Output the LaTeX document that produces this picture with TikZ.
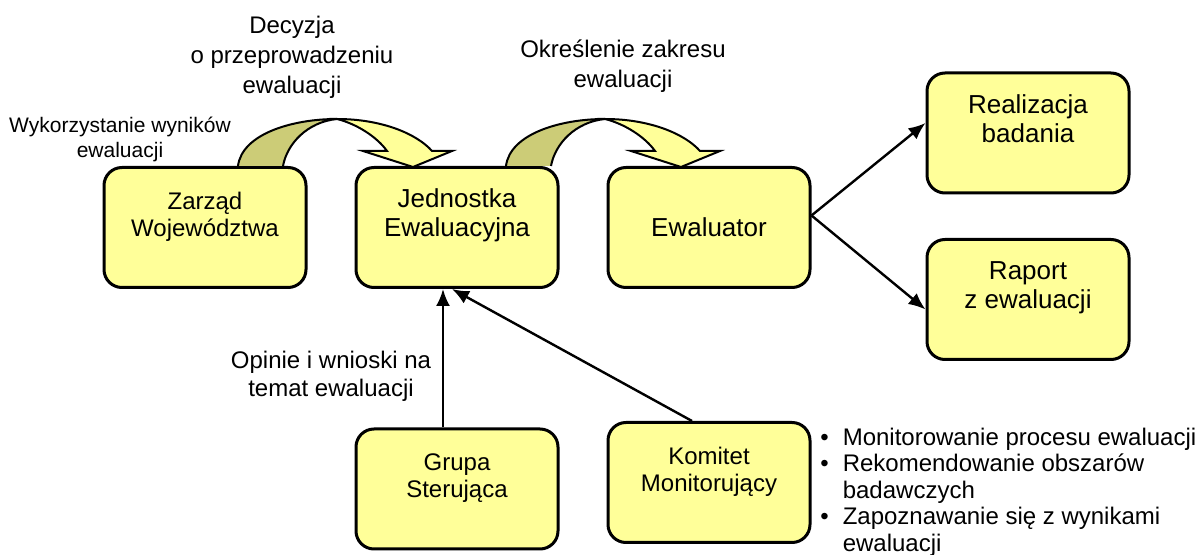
\documentclass[tikz,border=0pt]{standalone}
\usepackage{fontspec}
\setmainfont{Liberation Sans}
\usetikzlibrary{calc}
\usetikzlibrary{arrows.meta}
\definecolor{boxyellow}{HTML}{FFFF99}
\definecolor{bandshade}{HTML}{CCCC77}
\tikzset{box/.style={draw, line width=1.5pt, rounded corners=9pt, fill=boxyellow, minimum width=101pt, minimum height=60pt, align=center, inner sep=2pt},
  big/.style={font=\fontsize{13}{14.5}\selectfont},
  small/.style={font=\fontsize{12}{13.5}\selectfont},
  lbl/.style={align=center, font=\fontsize{12}{14}\selectfont},
  toplbl/.style={align=center, font=\fontsize{12}{15}\selectfont},
  arr/.style={line width=1.2pt, -{Latex[length=8.5pt,width=7pt]}},
  bendarrow/.pic={
    \draw[line width=1pt, fill=bandshade] (-99,47) .. controls (-95,15) and (-45,0) .. (0,0) .. controls (-30,3) and (-50,25) .. (-54,47);
    \draw[line width=1pt, fill=boxyellow] (0,0) .. controls (45,0) and (80,15) .. (95,32) -- (115,32) -- (76,48) -- (26,32) -- (50,32) .. controls (40,18) and (20,5) .. (0,0) -- cycle;
  }}

\begin{document}
\begin{tikzpicture}[x=0.5pt,y=-0.5pt]
\useasboundingbox (0,0) rectangle (1200,555);
\node (jedn) at (457,227.5) [box, big] {Jednostka\\Ewaluacyjna\\~};
\node (zarz) at ($(jedn)+(-252,0)$) [box, small] {Zarząd\\Województwa\\~};
\node (ewal) at ($(jedn)+(252,0)$) [box, big] {Ewaluator};
\node (real) at ($(ewal)+(319,-94.5)$) [box, big] {Realizacja\\badania\\~};
\node (rap) at ($(ewal)+(319,72)$) [box, big] {Raport\\z ewaluacji\\~};
\node (grupa) at ($(jedn)+(0,261.5)$) [box, small] {Grupa\\Sterująca\\~};
\node (komi) at ($(ewal)+(0,255)$) [box, small] {Komitet\\Monitorujący\\~};
% bent arrows over the top
\pic at ($(jedn.north)+(-120,-47)$) {bendarrow};
\pic at ($(ewal.north)+(-104,-47)$) {bendarrow};
\draw[arr] ($(ewal.east)+(0,-12)$) -- ($(real.west)+(0,-10)$);
\draw[arr] ($(ewal.east)+(0,-12)$) -- ($(rap.west)+(0,10)$);
\draw[arr] ($(grupa.north)+(-14,0)$) -- ($(jedn.south)+(-14,0)$);
\draw[arr] ($(komi.north)+(-17,0)$) -- ($(jedn.south)+(-5,0)$);
\node (decyz) at (292,57) [toplbl] {Decyzja\\o przeprowadzeniu\\ewaluacji};
\node (zakres) at (623,66) [toplbl] {Określenie zakresu\\ewaluacji};
\node (wykorz) at (120,139) [lbl, font=\fontsize{10.5}{12.5}\selectfont] {Wykorzystanie wyników\\ewaluacji};
\node (opinie) at (331,376) [lbl] {Opinie i wnioski na\\temat ewaluacji};
\node (zadania) at (820,493) [anchor=west, inner sep=0pt, font=\fontsize{12}{13.25}\selectfont] {\begin{tabular}{@{}l@{\hspace{7pt}}l@{}}
\textbullet & Monitorowanie procesu ewaluacji\\
\textbullet & Rekomendowanie obszarów\\
 & badawczych\\
\textbullet & Zapoznawanie się z wynikami\\
 & ewaluacji
\end{tabular}};
\end{tikzpicture}
\end{document}
